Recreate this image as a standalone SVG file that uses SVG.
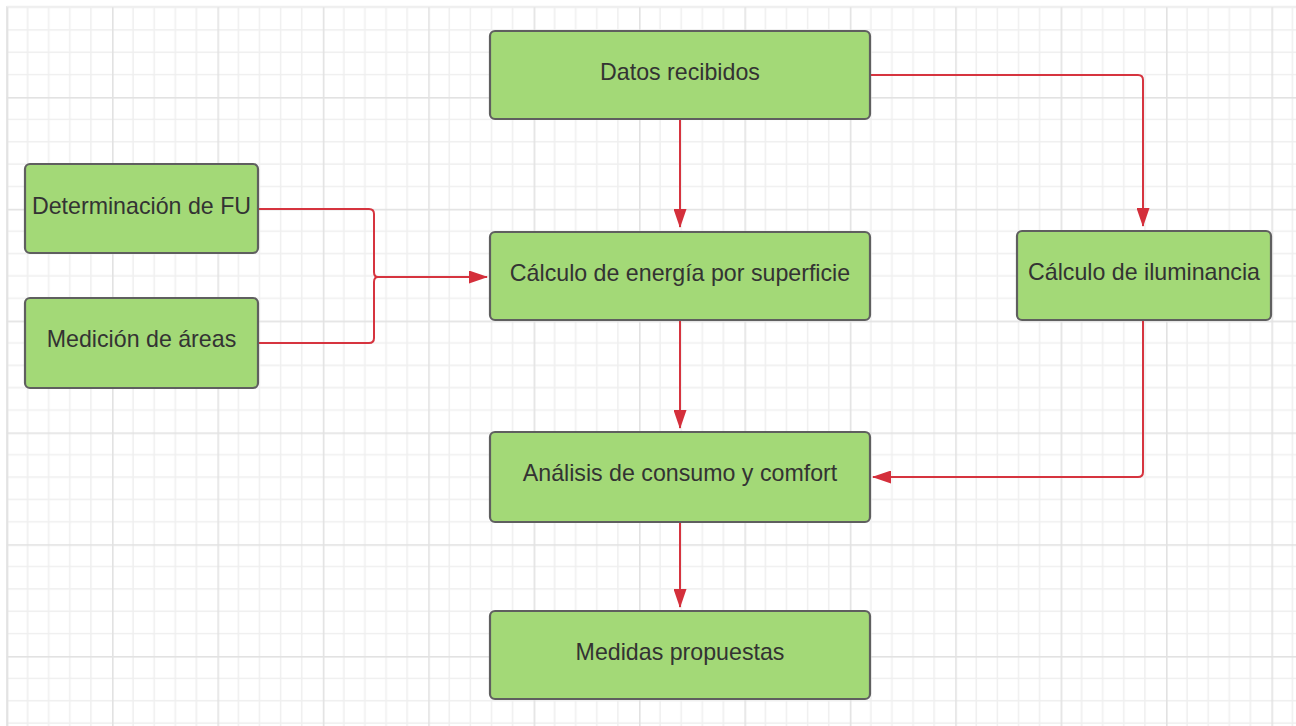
<svg xmlns="http://www.w3.org/2000/svg" width="1296" height="726" viewBox="0 0 1296 726">
  <style>
    .node rect { fill: #a3d977; stroke: #5f5f5f; stroke-width: 2.2; }
    .node text { font-family: "Liberation Sans", Arial, sans-serif; font-size: 23.2px; fill: #333333; text-anchor: middle; }
    .conn { fill: none; stroke: #d6343f; stroke-width: 2; }
  </style>
  <defs>
    <pattern id="grid" patternUnits="userSpaceOnUse" x="6.6" y="-14.8" width="105.4" height="111.8">
      <rect x="20.33" y="0" width="1.5" height="111.8" fill="#efefef"/>
      <rect x="41.41" y="0" width="1.5" height="111.8" fill="#efefef"/>
      <rect x="62.49" y="0" width="1.5" height="111.8" fill="#efefef"/>
      <rect x="83.57" y="0" width="1.5" height="111.8" fill="#efefef"/>
      <rect x="0" y="21.61" width="105.4" height="1.5" fill="#efefef"/>
      <rect x="0" y="43.97" width="105.4" height="1.5" fill="#efefef"/>
      <rect x="0" y="66.33" width="105.4" height="1.5" fill="#efefef"/>
      <rect x="0" y="88.69" width="105.4" height="1.5" fill="#efefef"/>
      <rect x="0" y="0" width="1.6" height="111.8" fill="#e2e2e2"/>
      <rect x="0" y="0" width="105.4" height="1.6" fill="#e2e2e2"/>
    </pattern>
    <marker id="arrow" markerUnits="userSpaceOnUse" markerWidth="19" markerHeight="13" refX="18" refY="6.5" orient="auto">
      <path d="M0,0 L19,6.5 L0,13 z" fill="#d42f3b"/>
    </marker>
  </defs>

  <rect x="0" y="0" width="1296" height="726" fill="#ffffff"/>
  <rect x="6.6" y="6" width="1290" height="720" fill="url(#grid)"/>
  <line x1="7" y1="6" x2="7" y2="726" stroke="#e2e2e2" stroke-width="1.6"/>
  <line x1="6.6" y1="6.5" x2="1296" y2="6.5" stroke="#efefef" stroke-width="1.5"/>

  <g id="connectors">
    <path class="conn" d="M680,119 V227" marker-end="url(#arrow)"/>
    <path class="conn" d="M870,75 H1138 Q1143,75 1143,80 V226" marker-end="url(#arrow)"/>
    <path class="conn" d="M680,320 V428" marker-end="url(#arrow)"/>
    <path class="conn" d="M1143,320 V472 Q1143,477 1138,477 H873" marker-end="url(#arrow)"/>
    <path class="conn" d="M680,522 V607" marker-end="url(#arrow)"/>
    <path class="conn" d="M258,209 H369 Q374,209 374,214 V272 Q374,277 378,277"/>
    <path class="conn" d="M258,343 H369 Q374,343 374,338 V282 Q374,277 378,277"/>
    <path class="conn" d="M377,277 H487" marker-end="url(#arrow)"/>
  </g>

  <g id="datos" class="node">
    <rect x="490" y="31" width="380" height="88" rx="5"/>
    <text x="680" y="80">Datos recibidos</text>
  </g>
  <g id="determinacion" class="node">
    <rect x="25" y="164" width="233" height="89" rx="5"/>
    <text x="141.5" y="214">Determinación de FU</text>
  </g>
  <g id="medicion" class="node">
    <rect x="25" y="298" width="233" height="90" rx="5"/>
    <text x="141.5" y="347">Medición de áreas</text>
  </g>
  <g id="calculo-energia" class="node">
    <rect x="490" y="232" width="380" height="88" rx="5"/>
    <text x="680" y="281">Cálculo de energía por superficie</text>
  </g>
  <g id="calculo-iluminancia" class="node">
    <rect x="1017" y="231" width="254" height="89" rx="5"/>
    <text x="1144" y="280">Cálculo de iluminancia</text>
  </g>
  <g id="analisis" class="node">
    <rect x="490" y="432" width="380" height="90" rx="5"/>
    <text x="680" y="481">Análisis de consumo y comfort</text>
  </g>
  <g id="medidas" class="node">
    <rect x="490" y="611" width="380" height="88" rx="5"/>
    <text x="680" y="660">Medidas propuestas</text>
  </g>
</svg>
